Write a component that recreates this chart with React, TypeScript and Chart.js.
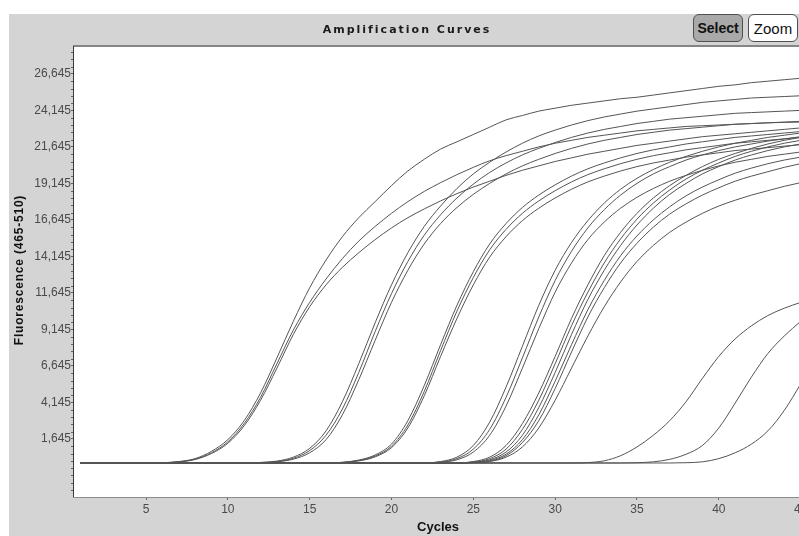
import React, { useEffect, useRef } from "react";
import { Chart, registerables } from "chart.js";

Chart.register(...registerables);

// ---- data ----
const cycles = [1,2,3,4,5,6,7,8,9,10,11,12,13,14,15,16,17,18,19,20,21,22,23,24,25,26,27,28,29,30,31,32,33,34,35,36,37,38,39,40,41,42,43,44,45];

const xTickValues = [5, 10, 15, 20, 25, 30, 35, 40, 45];
const yTickValues = [1645, 4145, 6645, 9145, 11645, 14145, 16645, 19145, 21645, 24145, 26645];
const yMinorStep = 500;

const chartTitle = "Amplification Curves";
const xTitle = "Cycles";
const yTitle = "Fluorescence (465-510)";

const a1 = [0,0,0,0,0,20,100,300,800,1600,2900,4800,7200,9700,12000,13900,15500,16800,17900,19000,20000,20800,21500,22000,22500,23000,23500,23800,24100,24300,24500,24650,24800,24950,25050,25200,25350,25500,25650,25800,25900,26050,26150,26250,26350];
const a2 = [0,0,0,0,0,15,80,260,700,1450,2700,4500,6800,9100,11000,12600,14000,15200,16200,17100,17900,18600,19200,19750,20250,20700,21050,21350,21650,21900,22100,22300,22450,22600,22750,22850,22950,23050,23100,23150,23200,23250,23300,23330,23350];
const a3 = [0,0,0,0,0,10,70,240,650,1350,2550,4300,6500,8800,10700,12200,13400,14400,15300,16100,16800,17400,17950,18450,18900,19300,19700,20050,20350,20650,20900,21150,21350,21550,21750,21900,22050,22200,22350,22450,22550,22650,22750,22850,22950];

const b1 = [0,0,0,0,0,0,0,0,0,0,0,40,130,400,1000,2200,4200,6800,9600,12200,14400,16200,17600,18800,19800,20600,21300,21900,22400,22800,23150,23450,23700,23900,24100,24250,24400,24550,24700,24800,24900,25000,25050,25100,25150];
const b2 = [0,0,0,0,0,0,0,0,0,0,0,30,100,320,850,1900,3700,6200,9000,11600,13800,15600,17000,18150,19100,19900,20550,21100,21550,21950,22300,22600,22850,23050,23250,23400,23550,23650,23750,23850,23950,24000,24050,24100,24150];
const b3 = [0,0,0,0,0,0,0,0,0,0,0,20,80,260,700,1600,3300,5700,8400,11000,13200,15000,16400,17500,18400,19150,19800,20350,20800,21200,21550,21850,22100,22300,22500,22650,22800,22900,23000,23100,23200,23250,23300,23350,23400];

const c1 = [0,0,0,0,0,0,0,0,0,0,0,0,0,0,0,0,50,200,550,1300,2900,5300,8100,10800,13100,15000,16400,17500,18350,19050,19650,20150,20550,20900,21200,21450,21650,21850,22000,22150,22300,22400,22500,22600,22700];
const c2 = [0,0,0,0,0,0,0,0,0,0,0,0,0,0,0,0,40,170,480,1150,2600,4900,7700,10400,12700,14600,16000,17100,17950,18650,19250,19750,20150,20500,20800,21050,21250,21450,21600,21750,21900,22000,22100,22200,22300];
const c3 = [0,0,0,0,0,0,0,0,0,0,0,0,0,0,0,0,30,140,420,1050,2400,4600,7300,9900,12200,14100,15500,16600,17450,18150,18750,19250,19650,20000,20300,20550,20750,20950,21100,21250,21400,21500,21600,21700,21800];

const d1 = [0,0,0,0,0,0,0,0,0,0,0,0,0,0,0,0,0,0,0,0,0,0,100,400,1200,2800,5200,8000,10800,13200,15100,16600,17800,18750,19500,20100,20600,21000,21350,21650,21900,22100,22300,22450,22600];
const d2 = [0,0,0,0,0,0,0,0,0,0,0,0,0,0,0,0,0,0,0,0,0,0,70,300,950,2300,4500,7200,10000,12500,14500,16100,17350,18350,19150,19800,20300,20750,21100,21400,21650,21850,22050,22200,22350];
const d3 = [0,0,0,0,0,0,0,0,0,0,0,0,0,0,0,0,0,0,0,0,0,0,50,220,750,1900,3900,6500,9200,11700,13700,15300,16500,17450,18200,18800,19300,19700,20050,20350,20600,20800,21000,21150,21300];

const e1 = [0,0,0,0,0,0,0,0,0,0,0,0,0,0,0,0,0,0,0,0,0,0,0,0,100,400,1200,2700,4800,7300,9900,12200,14200,15800,17100,18150,19000,19700,20300,20800,21200,21550,21850,22100,22300];
const e2 = [0,0,0,0,0,0,0,0,0,0,0,0,0,0,0,0,0,0,0,0,0,0,0,0,70,300,950,2300,4300,6800,9400,11700,13700,15350,16700,17800,18700,19450,20050,20550,21000,21350,21650,21900,22100];
const e3 = [0,0,0,0,0,0,0,0,0,0,0,0,0,0,0,0,0,0,0,0,0,0,0,0,50,220,750,1900,3800,6200,8800,11200,13200,14900,16300,17450,18400,19150,19800,20300,20750,21100,21400,21650,21850];
const e4 = [0,0,0,0,0,0,0,0,0,0,0,0,0,0,0,0,0,0,0,0,0,0,0,0,40,170,600,1600,3300,5600,8100,10500,12500,14200,15550,16650,17550,18300,18900,19400,19850,20200,20500,20750,20950];
const e5 = [0,0,0,0,0,0,0,0,0,0,0,0,0,0,0,0,0,0,0,0,0,0,0,0,30,130,500,1400,2900,5100,7600,10000,12000,13700,15050,16150,17050,17750,18350,18850,19300,19650,19950,20250,20500];
const e6 = [0,0,0,0,0,0,0,0,0,0,0,0,0,0,0,0,0,0,0,0,0,0,0,0,20,100,400,1100,2400,4300,6500,8700,10700,12400,13800,14900,15800,16500,17100,17600,18000,18350,18650,18950,19200];

const f1 = [0,0,0,0,0,0,0,0,0,0,0,0,0,0,0,0,0,0,0,0,0,0,0,0,0,0,0,0,0,0,0,30,150,500,1100,1900,2900,4200,5800,7300,8500,9400,10100,10600,11000];
const f2 = [0,0,0,0,0,0,0,0,0,0,0,0,0,0,0,0,0,0,0,0,0,0,0,0,0,0,0,0,0,0,0,0,0,0,20,80,250,600,1200,2400,4100,5900,7500,8700,9700];
const f3 = [0,0,0,0,0,0,0,0,0,0,0,0,0,0,0,0,0,0,0,0,0,0,0,0,0,0,0,0,0,0,0,0,0,0,0,0,0,20,80,300,700,1300,2200,3600,5400];

const seriesList = [f3, f2, f1, e6, e5, e4, e3, e2, e1, d3, d2, d1, c3, c2, c1, b3, b2, b1, a3, a2, a1];

// ---- axis ranges ----
const X_MIN = 0.6;
const X_MAX = 46;
const Y_MIN = -2329;
const Y_MAX = 28492;

const decor = {
  id: "decor",
  beforeDraw(chart: any) {
    const { ctx, chartArea: a, width, height } = chart;
    ctx.save();
    ctx.fillStyle = "#d4d4d4";
    ctx.fillRect(0, 0, width, height);
    ctx.fillStyle = "#ffffff";
    ctx.fillRect(a.left, a.top, a.right - a.left, a.bottom - a.top);
    ctx.restore();
  },
  afterDraw(chart: any) {
    const { ctx, chartArea: a } = chart;
    const y = chart.scales.y;
    ctx.save();
    // borders
    ctx.fillStyle = "#858585";
    ctx.fillRect(a.left - 1, a.top - 2, a.right - a.left + 2, 2);
    ctx.fillStyle = "#3a3a3a";
    ctx.fillRect(a.left - 1, a.top - 1, 1, a.bottom - a.top + 1);
    ctx.fillStyle = "#8c8c8c";
    ctx.fillRect(a.left - 1, a.bottom, a.right - a.left + 2, 1);
    // minor y ticks
    ctx.fillStyle = "#666";
    const base = yTickValues[0];
    for (let v = base - yMinorStep * Math.floor((base - Y_MIN) / yMinorStep); v <= Y_MAX; v += yMinorStep) {
      if (yTickValues.includes(v)) continue;
      const py = Math.round(y.getPixelForValue(v));
      ctx.fillRect(a.left - 3, py, 2, 1);
    }
    // title
    ctx.fillStyle = "#1a1a1a";
    ctx.font = 'bold 11px "DejaVu Sans"';
    (ctx as any).letterSpacing = "2px";
    ctx.textAlign = "center";
    ctx.textBaseline = "middle";
    ctx.fillText(chartTitle, 398, 16);
    // y title
    ctx.save();
    ctx.translate(11, (a.top + a.bottom) / 2 - 2);
    ctx.rotate(-Math.PI / 2);
    ctx.font = 'bold 12px "Liberation Sans"';
    (ctx as any).letterSpacing = "0.8px";
    ctx.fillStyle = "#111";
    ctx.fillText(yTitle, 0, 0);
    ctx.restore();
    (ctx as any).letterSpacing = "0px";
    // x title
    ctx.font = 'bold 13px "Liberation Sans"';
    ctx.fillStyle = "#111";
    ctx.fillText(xTitle, 429, 513);
    ctx.restore();
  },
};

export default function App() {
  const ref = useRef<HTMLCanvasElement | null>(null);

  useEffect(() => {
    if (!ref.current) return;
    const datasets = seriesList.map((s, i) => ({
      label: "S" + i,
      data: cycles.map((c, j) => ({ x: c, y: s[j] })),
      borderColor: "#555555",
      borderWidth: 1,
      pointRadius: 0,
      fill: false,
      cubicInterpolationMode: "monotone" as const,
    }));
    const chart = new Chart(ref.current, {
      type: "line",
      data: { datasets },
      plugins: [decor],
      options: {
        animation: false,
        responsive: false,
        devicePixelRatio: 1,
        layout: { padding: { top: 33, right: 22, left: 0, bottom: 0 } },
        plugins: { legend: { display: false }, tooltip: { enabled: false }, title: { display: false } },
        scales: {
          x: {
            type: "linear",
            min: X_MIN,
            max: X_MAX,
            afterBuildTicks: (scale: any) => {
              scale.ticks = xTickValues.map((v) => ({ value: v }));
            },
            afterFit: (scale: any) => {
              scale.height = 39;
            },
            grid: { drawOnChartArea: false, drawTicks: true, tickLength: 3, color: "#666" },
            border: { display: false },
            ticks: {
              autoSkip: false,
              maxRotation: 0,
              padding: 2,
              color: "#4a4a4a",
              font: { family: "Liberation Sans", size: 12 },
              callback: (v: any) => String(v),
            },
          },
          y: {
            type: "linear",
            min: Y_MIN,
            max: Y_MAX,
            afterBuildTicks: (scale: any) => {
              scale.ticks = yTickValues.map((v) => ({ value: v }));
            },
            afterFit: (scale: any) => {
              scale.width = 65;
            },
            grid: { drawOnChartArea: false, drawTicks: true, tickLength: 3, color: "#666" },
            border: { display: false },
            ticks: {
              autoSkip: false,
              padding: 0,
              color: "#4a4a4a",
              font: { family: "Liberation Sans", size: 12 },
              callback: (v: any) => Number(v).toLocaleString("en-US"),
            },
            title: { display: false },
          },
        },
      },
    } as any);
    return () => chart.destroy();
  }, []);

  const btn: React.CSSProperties = {
    position: "absolute",
    top: 14,
    height: 28,
    width: 50,
    boxSizing: "border-box",
    border: "1.5px solid #505050",
    borderRadius: 6,
    display: "flex",
    alignItems: "center",
    justifyContent: "center",
    font: 'bold 14px "Liberation Sans"',
    color: "#111",
  };

  return (
    <div style={{ position: "fixed", left: 0, top: 0, width: 799, height: 536, overflow: "hidden", background: "#fff" }}>
      <canvas
        ref={ref}
        width={830}
        height={522}
        style={{ position: "absolute", left: 9, top: 14, width: 830, height: 522 }}
      />
      <div style={{ ...btn, left: 693, background: "#a9a9a9" }}>Select</div>
      <div style={{ ...btn, left: 748, width: 50, background: "#fff", fontWeight: "normal", fontSize: 15 }}>Zoom</div>
    </div>
  );
}
